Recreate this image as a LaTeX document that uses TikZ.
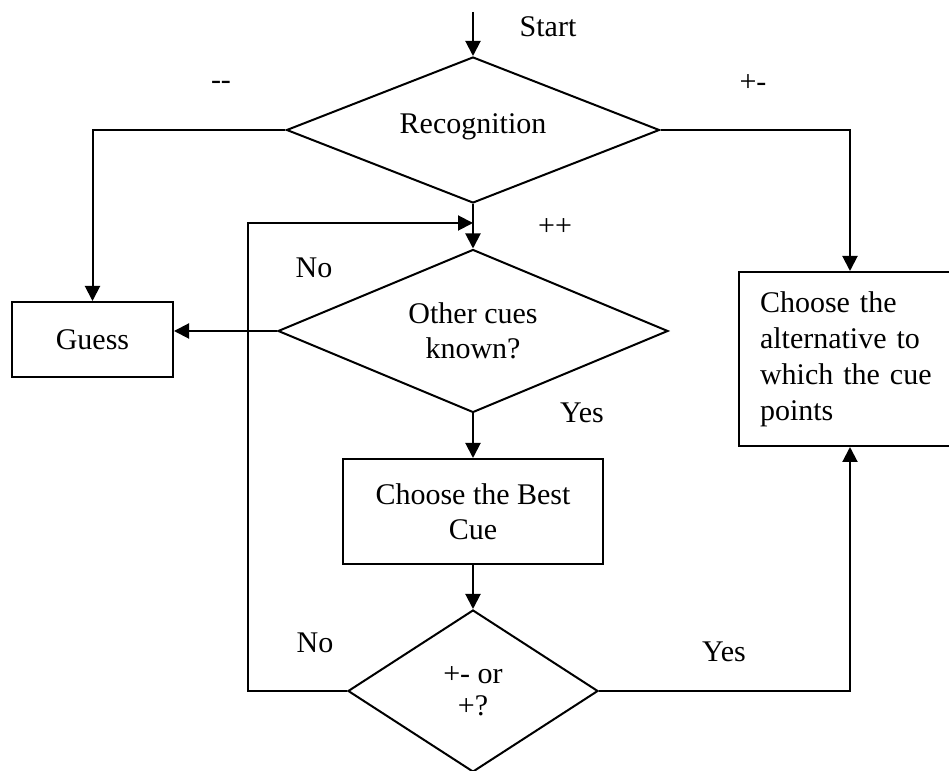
\documentclass[tikz,border=0pt]{standalone}
\usepackage{fontspec}
\setmainfont{Liberation Serif}
\usetikzlibrary{shapes.geometric,arrows.meta}
\tikzset{
  box/.style={draw,rectangle,inner sep=0pt,align=center},
  ask/.style={draw,diamond,inner sep=0pt,align=center},
}
\begin{document}
\begin{tikzpicture}[x=0.4pt,y=-0.4pt,line width=0.8pt,
    >={Triangle[length=6pt,width=6pt]},font=\fontsize{12}{14}\selectfont]
    \clip (0,0) rectangle (949,771);
    \coordinate (start) at (473,12);
    \node[ask,aspect=2.55,minimum width=149.2pt,minimum height=58.4pt](rec) at (473,130) {\raisebox{4.8pt}{Recognition}};
    \node[box,minimum width=64.4pt,minimum height=30pt](guess) at (92.5,339.5) {Guess};
    \node[box,minimum width=88.8pt,minimum height=69.6pt,text width=72pt,inner xsep=8.4pt,align=left,font=\fontsize{12}{14.4}\selectfont](alt) at (850,359)
        {Choose the\\alternative to\\which the cue\\points};
    \node[ask,aspect=2.39,minimum width=156pt,minimum height=65.2pt](oth) at (473,331) {Other cues\\known?};
    \node[box,minimum width=103.6pt,minimum height=42pt](best) at (473,511.5) {Choose the Best\\Cue};
    \node[ask,aspect=1.54,minimum width=100pt,minimum height=64.8pt](dec) at (473,691) {+- or\\[-1pt]+?};
    \coordinate (merge) at (473,223);
    \coordinate (loop) at (248,223);
    % labels
    \node (lstart) at (548,27) {Start};
    \node (lmm) at (221,85) {-{}-};
    \node (lpm) at (753,83) {+-};
    \node (lpp) at (555,227) {++};
    \node (lno1) at (314,268) {No};
    \node (lyes1) at (582,413) {Yes};
    \node (lno2) at (315,643) {No};
    \node (lyes2) at (724,652) {Yes};
    % connectors
    \draw[->] (start) -- (rec.north);
    \draw[->] (rec.west) -| (guess.north);
    \draw[->] (rec.east) -| (alt.north);
    \draw[->] (rec.south) -- (oth.north);
    \draw[->] (oth.west) -- (oth.west -| guess.east);
    \draw[->] (oth.south) -- (best.north);
    \draw[->] (best.south) -- (dec.north);
    \draw[->] (dec.east) -| (alt.south);
    \draw[->] (dec.west) -| (loop) -- (merge);
\end{tikzpicture}
\end{document}
